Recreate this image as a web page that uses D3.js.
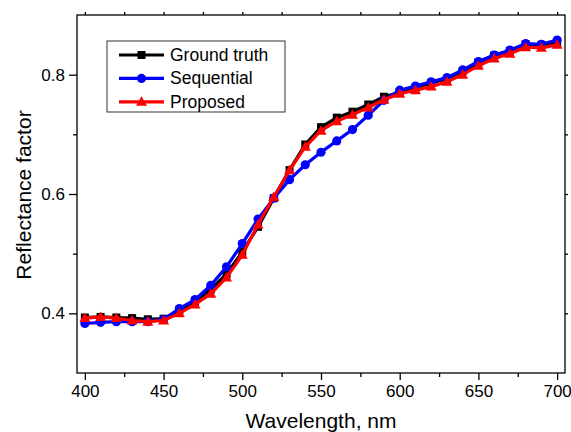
<!DOCTYPE html>
<html>
<head>
<meta charset="utf-8">
<script src="https://cdn.jsdelivr.net/npm/d3@7"></script>
<style>
body{margin:0;background:#fff;}
svg{display:block;font-family:'Liberation Sans',Arial,sans-serif;}
</style>
</head>
<body>
<svg></svg>
<script>
let wavelengths=[400,410,420,430,440,450,460,470,480,490,500,510,520,530,540,550,560,570,580,590,600,610,620,630,640,650,660,670,680,690,700]
let groundTruth=[0.393,0.394,0.393,0.392,0.390,0.391,0.404,0.420,0.440,0.466,0.503,0.545,0.593,0.640,0.683,0.712,0.728,0.738,0.750,0.763,0.770,0.778,0.786,0.793,0.806,0.820,0.832,0.840,0.851,0.850,0.854]
let sequential=[0.383,0.385,0.386,0.386,0.386,0.390,0.408,0.423,0.447,0.478,0.517,0.558,0.593,0.624,0.649,0.670,0.689,0.708,0.732,0.757,0.774,0.781,0.788,0.795,0.808,0.822,0.833,0.841,0.852,0.851,0.858]
let proposed=[0.392,0.394,0.392,0.388,0.386,0.388,0.400,0.415,0.433,0.460,0.498,0.549,0.595,0.640,0.679,0.706,0.722,0.733,0.745,0.758,0.768,0.774,0.780,0.788,0.800,0.815,0.827,0.835,0.846,0.845,0.850]
let seriesNames=['Ground truth','Sequential','Proposed']
let xTicks=[400,450,500,550,600,650,700]
let xMinorTicks=[425,475,525,575,625,675]
let yTicks=[0.4,0.6,0.8]
let yMinorTicks=[0.5,0.7]

let width=571
let height=432
let plotLeft=77, plotRight=565, plotTop=15, plotBottom=373
let svg=d3.select('svg').attr('width',width).attr('height',height)

let xScale=d3.scaleLinear().domain([395,705]).range([plotLeft,plotRight])
let yScale=d3.scaleLinear().domain([0.3,0.9]).range([plotBottom,plotTop])

let series=[
  {name:seriesNames[0],values:groundTruth,color:'#000000',marker:'square'},
  {name:seriesNames[1],values:sequential,color:'#0000ff',marker:'circle'},
  {name:seriesNames[2],values:proposed,color:'#ff0000',marker:'triangle'}
]

let drawAxes=()=>{
  // major + minor ticks, Origin style frame
  let styleAxis=g=>{
    g.select('.domain').remove()
    g.selectAll('line').attr('stroke','#000').attr('stroke-width',1.3)
    g.selectAll('text').attr('font-size',17).attr('fill','#000')
  }
  svg.append('g').attr('transform','translate(0,'+plotBottom+')')
    .call(d3.axisBottom(xScale).tickValues(xTicks).tickSize(7).tickPadding(5).tickFormat(d3.format('d')))
    .call(styleAxis)
  svg.append('g').attr('transform','translate(0,'+plotBottom+')')
    .call(d3.axisBottom(xScale).tickValues(xMinorTicks).tickSize(4).tickFormat(''))
    .call(styleAxis)
  svg.append('g').attr('transform','translate('+plotLeft+',0)')
    .call(d3.axisLeft(yScale).tickValues(yTicks).tickSize(8).tickPadding(4).tickFormat(d3.format('.1f')))
    .call(styleAxis)
  svg.append('g').attr('transform','translate('+plotLeft+',0)')
    .call(d3.axisLeft(yScale).tickValues(yMinorTicks).tickSize(4).tickFormat(''))
    .call(styleAxis)
  svg.append('g').attr('transform','translate(0,'+plotTop+')')
    .call(d3.axisTop(xScale).tickValues(xTicks.concat(xMinorTicks)).tickSize(3).tickFormat(''))
    .call(styleAxis)
  svg.append('g').attr('transform','translate('+plotRight+',0)')
    .call(d3.axisRight(yScale).tickValues(yTicks.concat(yMinorTicks)).tickSize(3).tickFormat(''))
    .call(styleAxis)

  svg.append('rect')
    .attr('x',plotLeft).attr('y',plotTop)
    .attr('width',plotRight-plotLeft).attr('height',plotBottom-plotTop)
    .attr('fill','none').attr('stroke','#000').attr('stroke-width',1.3)

  svg.append('text')
    .attr('x',(plotLeft+plotRight)/2).attr('y',428)
    .attr('text-anchor','middle').attr('font-size',21)
    .text('Wavelength, nm')
  svg.append('text')
    .attr('transform','translate(31,'+((plotTop+plotBottom)/2+1)+') rotate(-90)')
    .attr('text-anchor','middle').attr('font-size',21)
    .text('Reflectance factor')
}

let drawMarker=(g,type,color,x,y)=>{
  if(type=='square'){
    g.append('rect').attr('x',x-4).attr('y',y-4).attr('width',8).attr('height',8).attr('fill',color)
  }else if(type=='circle'){
    g.append('circle').attr('cx',x).attr('cy',y).attr('r',4.6).attr('fill',color)
  }else{
    g.append('path').attr('d','M'+x+','+(y-5.5)+'L'+(x+5.5)+','+(y+4)+'L'+(x-5.5)+','+(y+4)+'Z').attr('fill',color)
  }
}

let drawLines=()=>{
  let line=d3.line()
    .x((d,i)=>xScale(wavelengths[i]))
    .y(d=>yScale(d))
  series.forEach(s=>{
    let g=svg.append('g')
    g.append('path')
      .datum(s.values)
      .attr('d',line)
      .attr('fill','none')
      .attr('stroke',s.color)
      .attr('stroke-width',3.2)
    s.values.forEach((v,i)=>{
      drawMarker(g,s.marker,s.color,xScale(wavelengths[i]),yScale(v))
    })
  })
}

let drawLegend=()=>{
  let lg=svg.append('g')
  lg.append('rect')
    .attr('x',107).attr('y',41).attr('width',178).attr('height',71)
    .attr('fill','#fff').attr('stroke','#333').attr('stroke-width',1)
  series.forEach((s,i)=>{
    let y=55+i*23.4
    lg.append('line').attr('x1',119).attr('x2',164).attr('y1',y).attr('y2',y)
      .attr('stroke',s.color).attr('stroke-width',3.2)
    drawMarker(lg,s.marker,s.color,141.5,y)
    lg.append('text').attr('x',170).attr('y',y+6)
      .attr('font-size',17.5).text(s.name)
  })
}

drawAxes()
drawLines()
drawLegend()
</script>
</body>
</html>
